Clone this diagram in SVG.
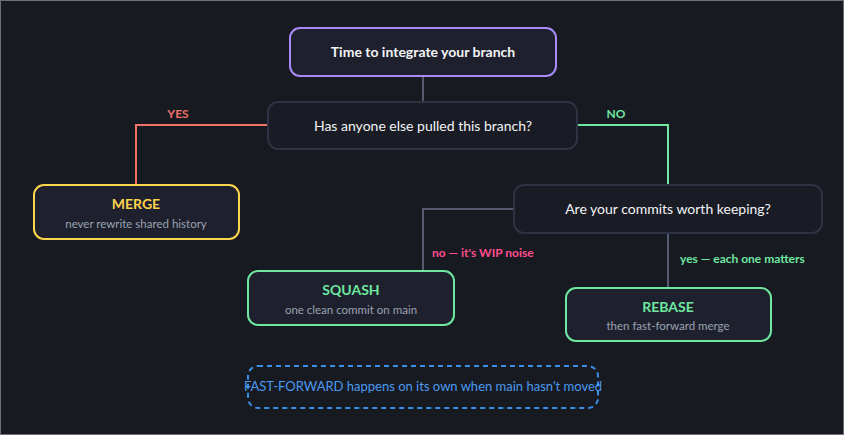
<svg xmlns="http://www.w3.org/2000/svg" width="844" height="435" viewBox="0 0 844 435">
<style>
text{font-family:Lato,"Open Sans","Noto Sans",sans-serif;text-anchor:middle}
.box{fill:#1e212d;stroke-width:2}
.q{fill:#1a1c25;stroke:#2f3242;stroke-width:2}
.t{font-size:14px;font-weight:bold;fill:#f3f4f6}
.qt{font-size:14px;fill:#f3f4f6}
.h{font-size:14px;font-weight:bold}
.s{font-size:11.5px;fill:#9aa1b2}
.c{fill:none;stroke-width:2}
.l{font-size:12px;font-weight:bold}
</style>
<rect x="0.5" y="0.5" width="843" height="434" fill="#181a22" stroke="#6b6f7a"/>
<g id="connectors">
<path class="c" stroke="#565c70" d="M423 76V102"/>
<path class="c" stroke="#f07167" d="M268 125H136V185"/>
<path class="c" stroke="#6ee7a0" d="M577 125H668V185"/>
<path class="c" stroke="#565c70" d="M514 209H423V271"/>
<path class="c" stroke="#565c70" d="M668 233V288"/>
<text class="l" x="178" y="118" fill="#f07167">YES</text>
<text class="l" x="616" y="118" fill="#6ee7a0">NO</text>
<text class="l" x="432" y="257" fill="#ff4d8d" style="text-anchor:start">no — it's WIP noise</text>
<text class="l" x="680" y="263" fill="#6ee7a0" style="text-anchor:start">yes — each one matters</text>
</g>
<g id="start"><rect class="box" x="290" y="28" width="266" height="48" rx="10" stroke="#a78bfa"/><text class="t" x="423" y="57">Time to integrate your branch</text></g>
<g id="q1"><rect class="q" x="268" y="102" width="309" height="47" rx="10"/><text class="qt" x="423" y="131">Has anyone else pulled this branch?</text></g>
<g id="merge"><rect class="box" x="34" y="185" width="205" height="54" rx="10" stroke="#fcd34d"/><text class="h" x="136" y="209" fill="#fcd34d">MERGE</text><text class="s" x="136" y="228">never rewrite shared history</text></g>
<g id="q2"><rect class="q" x="514" y="185" width="308" height="48" rx="10"/><text class="qt" x="668" y="214">Are your commits worth keeping?</text></g>
<g id="squash"><rect class="box" x="248" y="271" width="206" height="54" rx="10" stroke="#6ee7a0"/><text class="h" x="351" y="295" fill="#6ee7a0">SQUASH</text><text class="s" x="351" y="314">one clean commit on main</text></g>
<g id="rebase"><rect class="box" x="566" y="288" width="205" height="53" rx="10" stroke="#6ee7a0"/><text class="h" x="668" y="312" fill="#6ee7a0">REBASE</text><text class="s" x="668" y="330">then fast-forward merge</text></g>
<g id="note"><rect x="248" y="366" width="350" height="42" rx="10" fill="none" stroke="#3b8fe8" stroke-width="2" stroke-dasharray="5 4"/><text x="423" y="391" font-size="13" fill="#4a9af0">FAST-FORWARD happens on its own when main hasn't moved</text></g>
</svg>
